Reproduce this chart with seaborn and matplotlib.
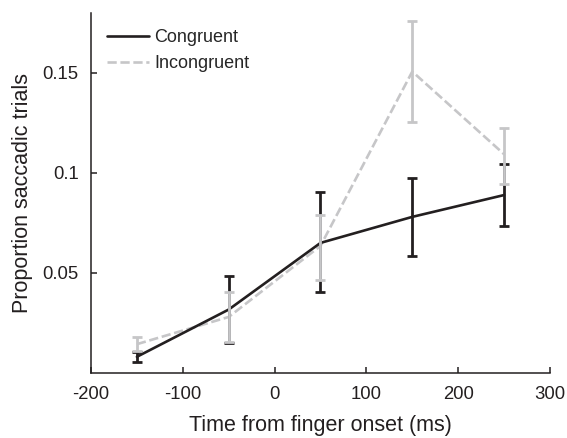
import numpy as np
import pandas as pd
import matplotlib
matplotlib.use("Agg")
import matplotlib.pyplot as plt
import seaborn as sns
from matplotlib.lines import Line2D

# values
times = [-150, -50, 50, 150, 250]
conditions = ["Congruent", "Incongruent"]
cong_mean = [0.0081, 0.0317, 0.0650, 0.0780, 0.0889]
cong_lo = [0.0055, 0.0151, 0.0403, 0.0584, 0.0736]
cong_hi = [0.0105, 0.0483, 0.0902, 0.0976, 0.1043]
incong_mean = [0.0144, 0.0280, 0.0635, 0.1506, 0.1093]
incong_lo = [0.0110, 0.0156, 0.0463, 0.1254, 0.0944]
incong_hi = [0.0182, 0.0403, 0.0790, 0.1760, 0.1225]
xticks = [-200, -100, 0, 100, 200, 300]
yticks = [0.05, 0.1, 0.15]
ytick_labels = ["0.05", "0.1", "0.15"]

black = "#231f20"
grey = "#c6c6c8"

sns.set_style("ticks")
plt.rcParams['font.family'] = ['Liberation Sans', 'DejaVu Sans']

df = pd.DataFrame({
    "time": times * 2,
    "prop": cong_mean + incong_mean,
    "cond": [conditions[0]] * len(times) + [conditions[1]] * len(times),
})

fig = plt.figure(figsize=(5.67, 4.38), dpi=100)
ax = fig.add_axes([0.1605, 0.1484, 0.8095, 0.8226])

sns.lineplot(data=df, x="time", y="prop", hue="cond", style="cond",
             hue_order=conditions[::-1], style_order=conditions[::-1],
             palette={"Congruent": black, "Incongruent": grey},
             dashes={"Congruent": "", "Incongruent": (3.5, 1.4)},
             linewidth=1.9, ax=ax, legend=False)

# error bars: black first, grey on top
for mean, lo, hi, col in [(cong_mean, cong_lo, cong_hi, black),
                          (incong_mean, incong_lo, incong_hi, grey)]:
    m = np.array(mean)
    err = [m - np.array(lo), np.array(hi) - m]
    ax.errorbar(times, m, yerr=err, fmt="none", ecolor=col,
                elinewidth=2.0, capsize=3.5, capthick=2.0, zorder=3)

ax.set_xlim(-200, 300)
ax.set_ylim(0, 0.18)
ax.set_xticks(xticks)
ax.set_xticklabels([str(t) for t in xticks])
ax.set_yticks(yticks)
ax.set_yticklabels(ytick_labels)
ax.tick_params(direction="in", length=4, width=1.1, labelsize=13.3,
               colors=black, pad=9)
for s in ["left", "bottom"]:
    ax.spines[s].set_linewidth(1.1)
    ax.spines[s].set_color(black)
sns.despine(ax=ax)

ax.set_xlabel("Time from finger onset (ms)", fontsize=15.5, color=black, labelpad=9)
ax.set_ylabel("Proportion saccadic trials", fontsize=15.5, color=black, labelpad=7)

handles = [Line2D([], [], color=black, lw=1.9),
           Line2D([], [], color=grey, lw=1.9, dashes=(3.5, 1.4))]
ax.legend(handles, conditions, loc="upper left", bbox_to_anchor=(0.02, 0.975),
          frameon=False, fontsize=13, handlelength=2.3, handletextpad=0.3,
          labelspacing=0.5, borderaxespad=0)

fig.savefig("out.png", dpi=100)
